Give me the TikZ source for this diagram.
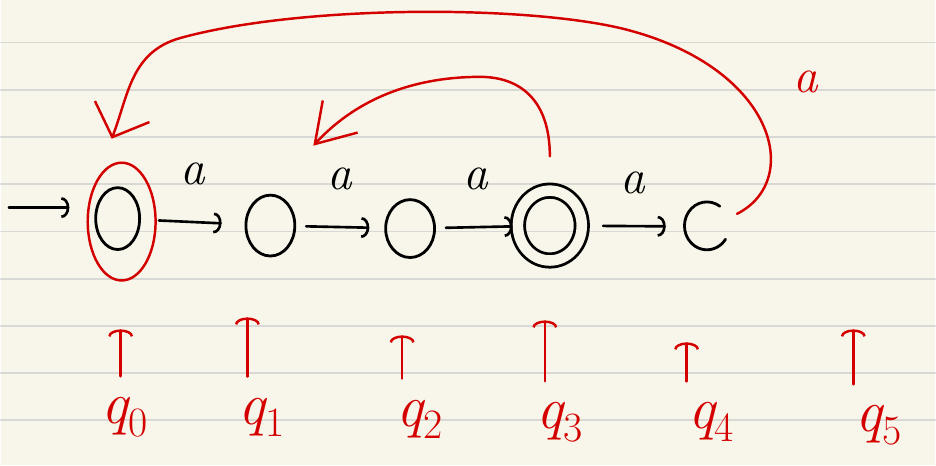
\documentclass[tikz,border=0pt]{standalone}
\usepackage{fontspec}
\usepackage{xcolor}
\definecolor{paper}{HTML}{F8F6EA}
\definecolor{ruling}{HTML}{D8D8D5}
\definecolor{pen}{HTML}{D40000}
\usetikzlibrary{arrows.meta, shapes.geometric}

\begin{document}
\begin{tikzpicture}[x=0.02cm, y=-0.02cm, line cap=round, line join=round,
    st/.style={draw, ellipse, line width=1.6pt, inner sep=0pt, minimum width=0.98cm, minimum height=1.22cm},
    move/.style={line width=1.5pt, -{Arc Barb[length=0.16cm, width=0.42cm]}},
    inkred/.style={pen, line width=1.4pt},
    sym/.style={font=\fontsize{28}{28}\selectfont\itshape},
    tag/.style={font=\fontsize{34}{34}\selectfont\itshape, text=pen}]
  % 1 unit = 1 px of the 936 x 466 sheet, y runs downwards
  \fill[paper] (0,0) rectangle (936,466);
  \foreach \i in {0,...,8}
    \draw[ruling, line width=1pt] (0,42.7+47.3*\i) -- (936,42.7+47.3*\i);
  % States.
  \node[st, minimum width=0.88cm, minimum height=1.24cm] (q0) at (117,219) {};
  \node[st]                                   (q1) at (270,226) {};
  \node[st, minimum height=1.16cm]            (q2) at (410,229) {};
  \node[st, double=paper, double distance=6pt,
        minimum width=1.28cm, minimum height=1.4cm] (q3) at (550,226) {};
  \node[st, draw=none, minimum width=0.9cm, minimum height=0.96cm] (q4) at (706,227) {};
  \draw[line width=1.6pt] (q4.55) arc[start angle=55, end angle=326, x radius=0.45cm, y radius=0.48cm];
  \draw[inkred] ([shift={(4,3)}]q0.center) ellipse[x radius=0.68cm, y radius=1.18cm]; % marked start
  % Forward moves on a.
  \coordinate (start) at (8,208);
  \draw[move, shorten >=0.5cm] (start) -- (start -| q0.west);
  \draw[move, shorten <=0.36cm, shorten >=0.46cm] (q0) -- node[sym, above=0.6cm] {a} (q1);
  \draw[move, shorten <=0.2cm,  shorten >=0.3cm]  (q1) -- node[sym, above=0.6cm] {a} (q2);
  \draw[move, shorten <=0.2cm,  shorten >=0.08cm] (q2) -- node[sym, above=0.6cm] {a} (q3);
  \draw[move, shorten <=0.4cm,  shorten >=0.32cm] (q3) -- node[sym, above=0.5cm] {a} (q4);
  % Back moves (red).
  \coordinate (back0) at (111,139);
  \coordinate (back1) at (313,146);
  \draw[inkred, -{Straight Barb[length=0.55cm, width=1.17cm]}, shorten <=0.2cm]
    (q4.20) .. controls (805,180) and (775,65) .. (620,28)
            .. controls (520,5) and (300,5) .. (180,38)
            .. controls (130,52) and (128,95) .. (back0);
  \node[sym, text=pen] (a4) at (806,82) {a};
  \draw[inkred, -{Straight Barb[length=0.75cm, width=0.95cm]}, shorten <=0.66cm]
    (q3.north) .. controls (550,100) and (520,77) .. (480,77)
               .. controls (420,77) and (360,95) .. (back1);
  % State names underneath.
  \foreach \n/\x/\y/\lx/\ly in {0/120/330/124/418, 1/247/318/262/418, 2/402/336/420/420,
                                3/545/321/560/423, 4/687/343/712/423, 5/854/330/880/426} {
    \node[tag] (l\n) at (\lx,\ly) {q\textsubscript{\upshape\n}};
    \coordinate (t\n) at (\x,\y);
    \draw[inkred, -{Arc Barb[length=0.14cm, width=0.5cm]}, shorten <=0.3cm] (t\n |- l\n.north) -- (t\n);
  }
\end{tikzpicture}
\end{document}
